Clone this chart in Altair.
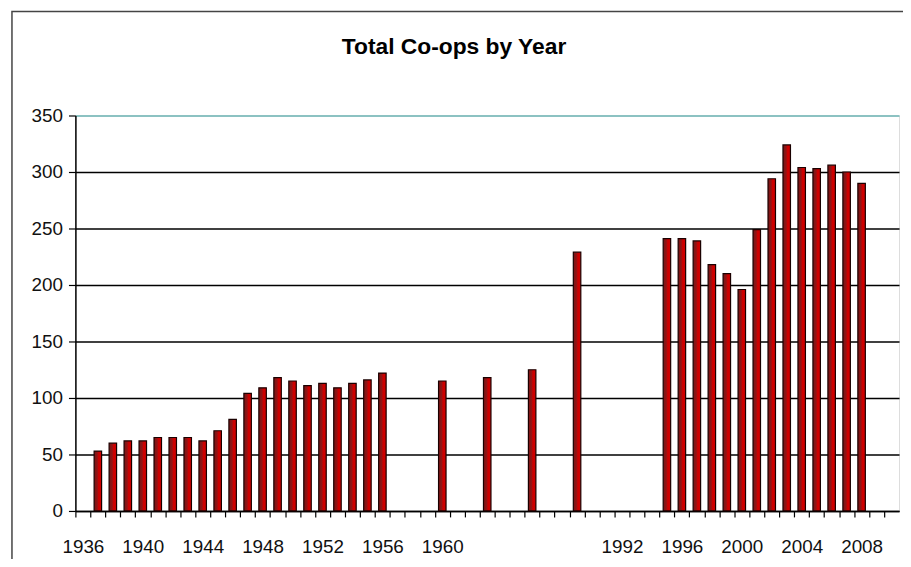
import altair as alt
import pandas as pd

# Category slots along the x axis (Excel-style category axis)
years_early = [str(y) for y in range(1936, 1961)]          # 1936..1960
gap_slots = [f"gap{i}" for i in range(1, 12)]               # 11 unlabeled slots
years_late = [str(y) for y in range(1992, 2011)]            # 1992..2010
categories = years_early + gap_slots + years_late

values_early = [None, 53, 60, 62, 62, 65, 65, 65, 62, 71, 81, 104, 109, 118,
                115, 111, 113, 109, 113, 116, 122, None, None, None, 115]
values_gap = [None, None, 118, None, None, 125, None, None, 229, None, None]
values_late = [None, None, None, 241, 241, 239, 218, 210, 196, 249, 294, 324,
               304, 303, 306, 300, 290, None, None]
values = values_early + values_gap + values_late

shown_labels = ["1936", "1940", "1944", "1948", "1952", "1956", "1960",
                "1992", "1996", "2000", "2004", "2008"]
y_ticks = [0, 50, 100, 150, 200, 250, 300, 350]
title_text = "Total Co-ops by Year"

df = pd.DataFrame({"cat": categories, "count": values})

W, H = 831, 399
step = W / len(categories)
FONT = "Liberation Sans, Arial"

label_expr = "indexof(" + str(shown_labels) + ", datum.label) >= 0 ? datum.label : ''"

bar_fill = alt.Gradient(
    gradient="linear", x1=0, x2=1, y1=0, y2=0,
    stops=[alt.GradientStop(offset=0, color="#7a1414"),
           alt.GradientStop(offset=0.4, color="#8e1616"),
           alt.GradientStop(offset=0.6, color="#cc0000"),
           alt.GradientStop(offset=1, color="#d40000")],
)

bars = alt.Chart(df).mark_bar(
    fill=bar_fill, stroke="#1a0000", strokeWidth=1.2
).encode(
    x=alt.X("cat:N", sort=categories,
            scale=alt.Scale(domain=categories, paddingInner=0.5, paddingOuter=0.25),
            axis=alt.Axis(title=None, labelExpr=label_expr, labelAngle=0,
                          domainColor="black", domainWidth=1.5,
                          tickColor="black", tickSize=6, tickWidth=1.2,
                          tickOffset=-step / 2, labelOffset=step / 2,
                          labelPadding=21, labelFont=FONT, labelFontSize=19,
                          labelColor="#111", labelOverlap=False, grid=False)),
    y=alt.Y("count:Q",
            scale=alt.Scale(domain=[0, 350], nice=False),
            axis=alt.Axis(title=None, values=y_ticks, domainColor="black", domainWidth=1.5,
                          tickColor="black", tickSize=7, tickWidth=1.2,
                          labelPadding=6, labelFont=FONT, labelFontSize=19,
                          labelColor="#111",
                          grid=True, gridWidth=1.5,
                          gridColor={"condition": {"test": "datum.value >= 350", "value": "#6bb3b3"},
                                     "value": "black"})),
)

border = alt.Chart(alt.Data(values=[{}])).mark_rect(
    fillOpacity=0, stroke="#444", strokeWidth=1.5
).encode(
    x=alt.value(-64), x2=alt.value(1000),
    y=alt.value(-105), y2=alt.value(700),
)

title = alt.Chart(alt.Data(values=[{"t": title_text}])).mark_text(
    font="Liberation Sans", fontSize=23, fontWeight="bold", color="black",
    align="center", baseline="middle"
).encode(
    text="t:N", x=alt.value(382), y=alt.value(-69),
)

chart = alt.layer(bars, border, title).properties(
    width=W, height=H,
    autosize=alt.AutoSizeParams(type="none"),
    padding={"left": 68, "top": 106, "right": 4, "bottom": 46},
).configure_view(
    stroke="#6bb3b3", strokeWidth=1.5
).configure(background="white")

chart.save("out.html", embed_options={"renderer": "svg", "actions": False})
